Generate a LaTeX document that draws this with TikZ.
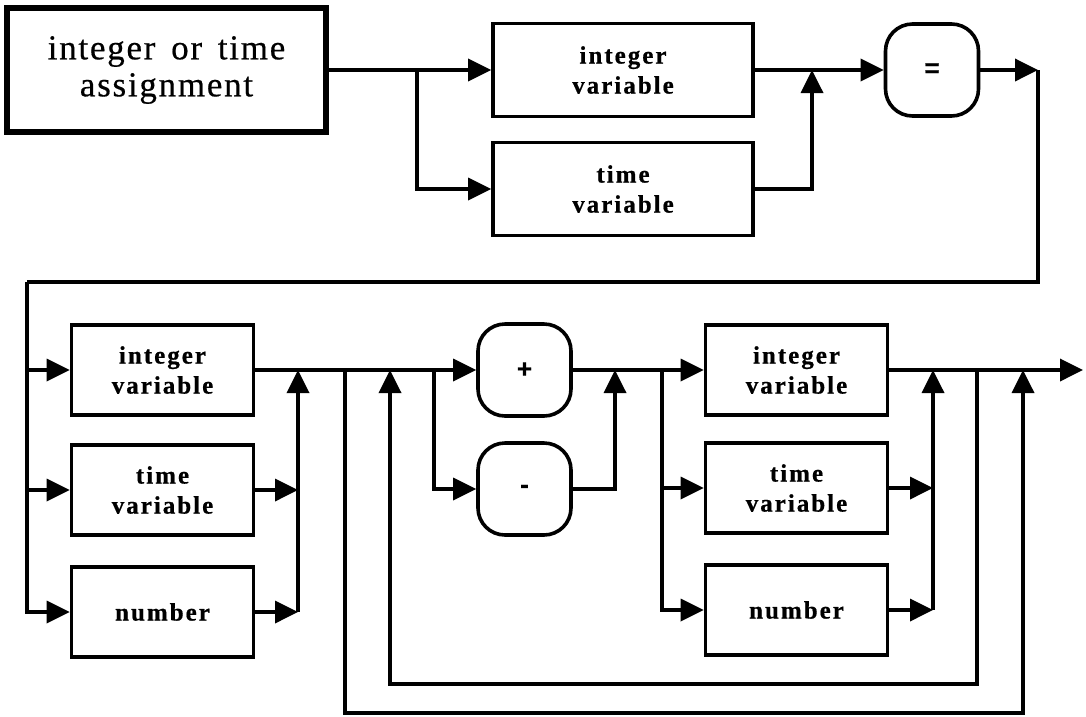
\documentclass[tikz,border=0pt]{standalone}
\usepackage{fontspec}
\setmainfont{Liberation Serif}
\newfontfamily\boxfont[LetterSpace=8,FakeBold=0.6]{Liberation Serif Bold}
\newfontfamily\symfont[FakeBold=0.6]{Liberation Sans Bold}
\newfontfamily\titlefont[LetterSpace=5,WordSpace=1.5,FakeBold=0.5]{Liberation Serif}
\usetikzlibrary{arrows.meta}
\tikzset{
  ln/.style={line width=3.6pt},
  arr/.style={line width=3.6pt, -{Triangle[length=23pt,width=22pt]}},
  box/.style={draw, line width=3.6pt, inner sep=0pt, align=center,
    font=\boxfont\fontsize{25}{30}\selectfont},
  rbox/.style={box, rounded corners=27pt, minimum width=93pt, minimum height=92pt,
    font=\symfont\fontsize{26}{30}\selectfont},
  titlebox/.style={draw, line width=6pt, inner sep=0pt, align=center,
    minimum width=319pt, minimum height=124pt,
    font=\titlefont\fontsize{35}{37}\selectfont},
  wbox/.style={box, minimum width=260pt, minimum height=93pt},
  nbox/.style={box, minimum width=182pt, minimum height=90pt},
}
\begin{document}
\begin{tikzpicture}[x=1pt,y=-1pt]
\useasboundingbox (0,0) rectangle (1086,716);
% top row
\node[titlebox] (title) at (166.5,70) {integer or time\\assignment};
\node[wbox] (iv1) at (623,70) {integer\\variable};
\node[wbox] (tv1) at (623,189) {time\\variable};
\node[rbox] (eq) at (932,70) {=};
\coordinate (a1) at (417,70);
\coordinate (m1) at (812,70);
\coordinate (c1) at (1038,70);
\coordinate (r0) at (1038,282);
\coordinate (l0) at (27,282);
\draw[ln] (title.east) -- (a1);
\draw[arr] (a1) -- (iv1.west);
\draw[arr] (a1) |- (tv1.west);
\draw[ln] (iv1.east) -- (m1);
\draw[arr] (tv1.east) -| (m1);
\draw[arr] (m1) -- (eq.west);
\draw[arr] (eq.east) -- (c1);
\draw[ln] (c1) -- (r0) -- (l0);
% second row
\node[nbox] (iv2) at (162.5,370) {integer\\variable};
\node[nbox] (tv2) at (162.5,490) {time\\variable};
\node[nbox] (nu2) at (162.5,612) {number};
\node[rbox] (plus) at (524.5,370) {+};
\node[rbox] (minus) at (524.5,489) {-};
\node[nbox] (iv3) at (796.5,370) {integer\\variable};
\node[nbox] (tv3) at (796.5,488) {time\\variable};
\node[nbox] (nu3) at (796.5,610) {number};
\coordinate (m2) at (298,370);
\coordinate (m2b) at (298,612);
\coordinate (o1) at (345,370);
\coordinate (i1) at (390,370);
\coordinate (b2) at (434,370);
\coordinate (m3) at (615,370);
\coordinate (b3) at (662,370);
\coordinate (m4) at (933,370);
\coordinate (m4b) at (933,610);
\coordinate (i2) at (977,370);
\coordinate (o2) at (1023,370);
\coordinate (fin) at (1083,370);
\coordinate (ibot) at (680,684);
\coordinate (obot) at (680,713);
\draw[arr] (l0) |- (iv2.west);
\draw[arr] (l0) |- (tv2.west);
\draw[arr] (l0) |- (nu2.west);
\draw[arr] (tv2.east) -- (tv2.east -| m2);
\draw[arr] (nu2.east) -- (m2b);
\draw[arr] (m2b) -- (m2);
\draw[arr] (iv2.east) -- (plus.west);
\draw[arr] (b2) |- (minus.west);
\draw[arr] (minus.east) -| (m3);
\draw[arr] (plus.east) -- (iv3.west);
\draw[arr] (b3) |- (tv3.west);
\draw[arr] (b3) |- (nu3.west);
\draw[arr] (tv3.east) -- (tv3.east -| m4);
\draw[arr] (nu3.east) -- (m4b);
\draw[arr] (m4b) -- (m4);
\draw[arr] (iv3.east) -- (fin);
\draw[arr] (i2) |- (ibot) -| (i1);
\draw[arr] (o1) |- (obot) -| (o2);
\end{tikzpicture}
\end{document}
